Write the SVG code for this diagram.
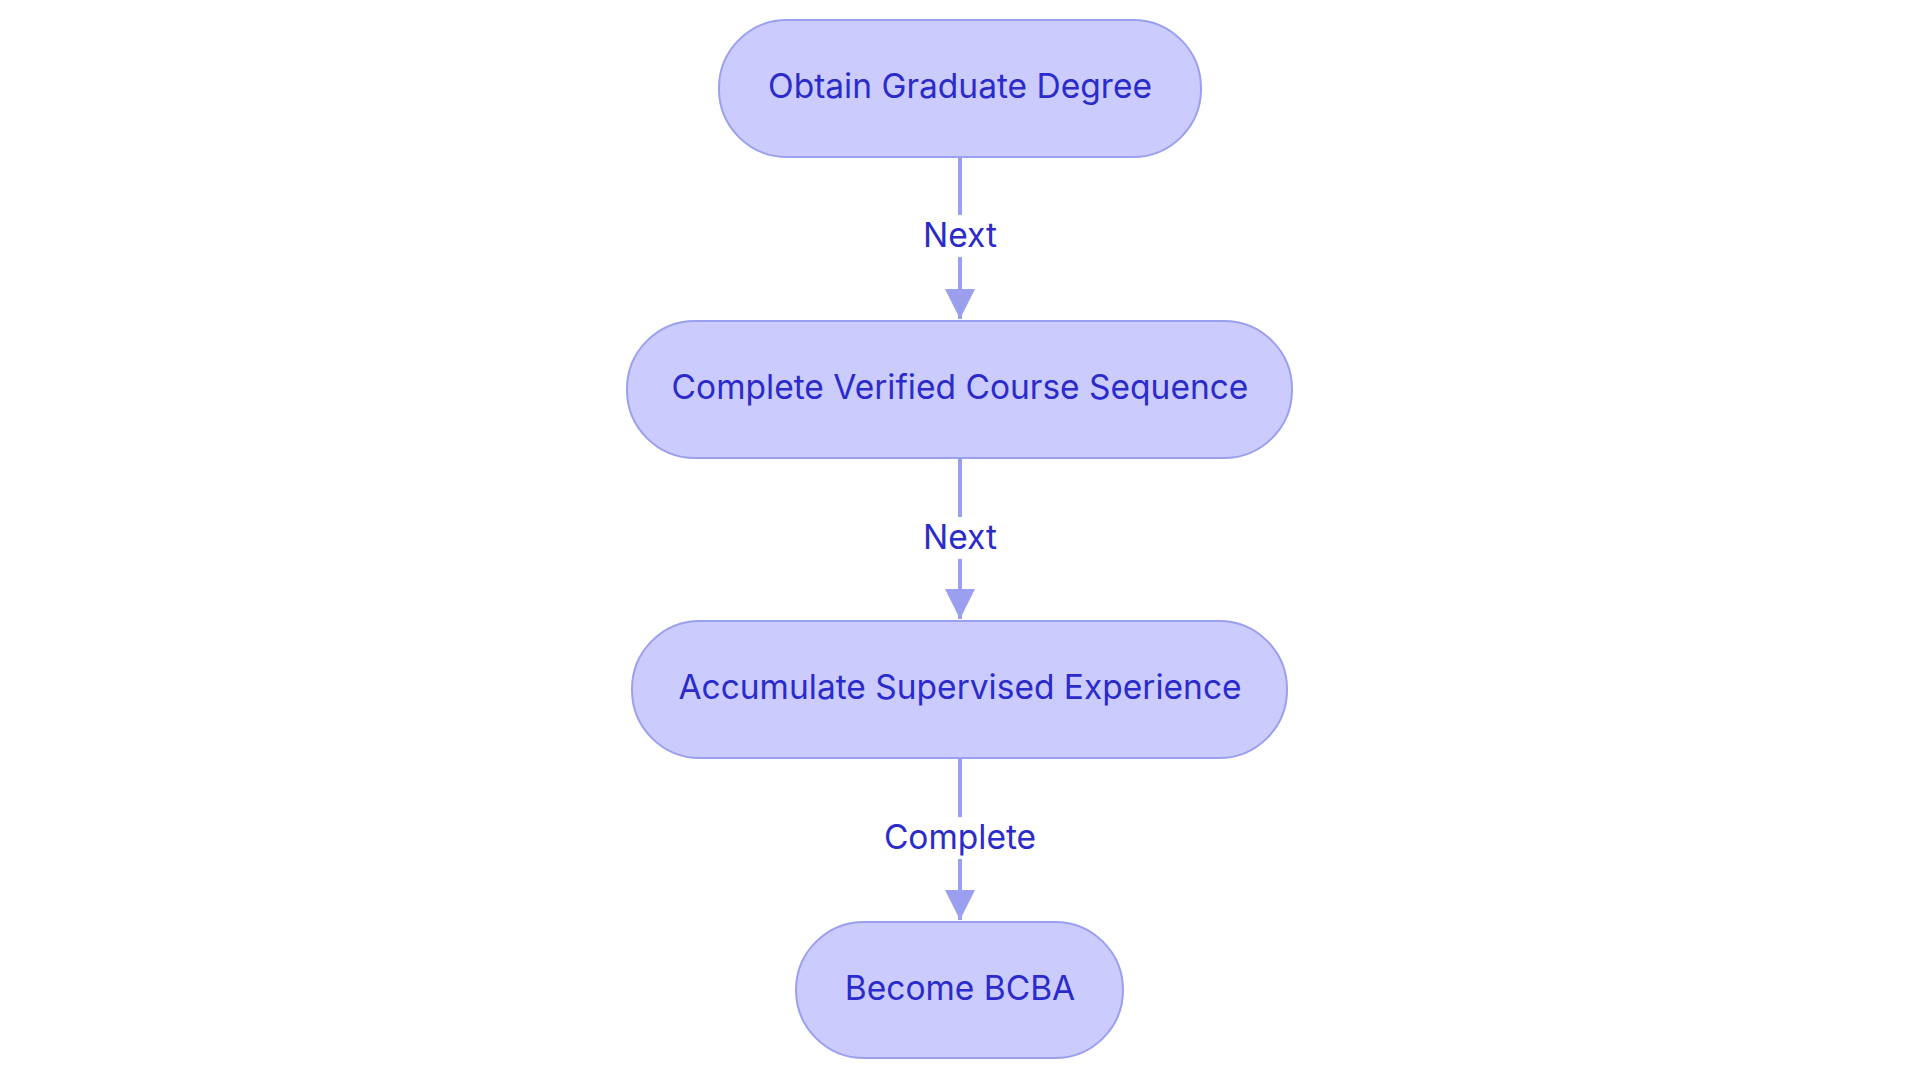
<svg xmlns="http://www.w3.org/2000/svg" width="1920" height="1083" viewBox="0 0 1920 1083">
<style>
.n{fill:#cbcbfd;stroke:#9b9ff0;stroke-width:2}
.t{font-family:Inter,"Liberation Sans",sans-serif;font-size:33.5px;fill:#2b2bcc;text-anchor:middle;dominant-baseline:central}
.e{stroke:#9b9ff0;stroke-width:4;fill:none}
.lb{fill:#ffffff}
</style>
<defs><marker id="a" viewBox="0 0 10 10" refX="10" refY="5" markerWidth="7.5" markerHeight="7.5" orient="auto" markerUnits="strokeWidth"><path d="M0,0L10,5L0,10z" fill="#9b9ff0"/></marker></defs>
<rect width="1920" height="1083" fill="#ffffff"/>
<g id="connectors">
<line class="e" x1="960" y1="157" x2="960" y2="319" marker-end="url(#a)"/>
<line class="e" x1="960" y1="458" x2="960" y2="619" marker-end="url(#a)"/>
<line class="e" x1="960" y1="758" x2="960" y2="920" marker-end="url(#a)"/>
<rect class="lb" x="916" y="215" width="88" height="42"/><text class="t" x="960" y="235">Next</text>
<rect class="lb" x="916" y="517" width="88" height="42"/><text class="t" x="960" y="537">Next</text>
<rect class="lb" x="876" y="817" width="168" height="42"/><text class="t" x="960" y="837">Complete</text>
</g>
<g id="n1"><rect class="n" x="719" y="20" width="482" height="137" rx="68"/><text class="t" x="960" y="86">Obtain Graduate Degree</text></g>
<g id="n2"><rect class="n" x="627" y="321" width="665" height="137" rx="68"/><text class="t" x="960" y="387">Complete Verified Course Sequence</text></g>
<g id="n3"><rect class="n" x="632" y="621" width="655" height="137" rx="68"/><text class="t" x="960" y="687">Accumulate Supervised Experience</text></g>
<g id="n4"><rect class="n" x="796" y="922" width="327" height="136" rx="68"/><text class="t" x="960" y="988">Become BCBA</text></g>
</svg>
